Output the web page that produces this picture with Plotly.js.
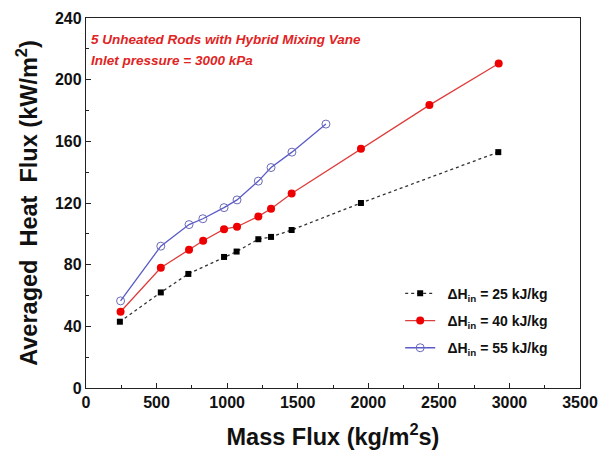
<!DOCTYPE html>
<html><head><meta charset="utf-8">
<script src="https://cdn.plot.ly/plotly-3.0.1.min.js"></script>
<style>body{margin:0;background:#fff}#c{width:610px;height:458px}</style>
</head><body><div id="c"></div>
<script>
const x25 = [240, 530, 725, 978, 1067, 1221, 1311, 1457, 1948, 2921];
const y25 = [43, 62, 74, 85, 88.5, 96.5, 98, 102.5, 120, 153];
const x40 = [245, 530, 730, 830, 978, 1070, 1221, 1311, 1457, 1948, 2433, 2924];
const y40 = [49.5, 78, 89.7, 95.5, 103, 104.6, 111.3, 116.3, 126.2, 155.2, 183.5, 210.5];
const x55 = [245, 530, 730, 828, 978, 1070, 1221, 1311, 1459, 1700];
const y55 = [56.5, 92, 106, 109.8, 117, 122, 134.2, 143, 153, 171.2];
const names = ['ΔH<sub>in</sub> = 25 kJ/kg', 'ΔH<sub>in</sub> = 40 kJ/kg', 'ΔH<sub>in</sub> = 55 kJ/kg'];
const notes = ['5 Unheated Rods with Hybrid Mixing Vane', 'Inlet pressure = 3000 kPa'];

const F = 'Liberation Sans, Arial, sans-serif';
const traces = [
  {x: x25, y: y25, name: '  ' + names[0], legendgroup: 'a', mode: 'lines+markers',
   line: {color: '#333', width: 1.3, dash: 'dot'},
   marker: {symbol: 'square', size: 6, color: '#000'}},
  {x: x40, y: y40, name: '  ' + names[1], legendgroup: 'b', mode: 'lines+markers',
   line: {color: '#e03c3c', width: 1.3},
   marker: {symbol: 'circle', size: 8, color: '#ee0000'}},
  {x: x55, y: y55, name: '  ' + names[2], legendgroup: 'c', mode: 'lines+markers',
   line: {color: '#5a5ac8', width: 1.3},
   marker: {symbol: 'circle-open', size: 8, color: '#6a6ab8', line: {width: 1}}}
];
const axisCommon = {
  showline: true, linecolor: '#222', linewidth: 1.3, mirror: true,
  showgrid: false, zeroline: false, ticks: 'inside', ticklen: 5, tickcolor: '#222',
  tickfont: {family: F, size: 16, color: '#111', weight: 'bold'}
};
const layout = {
  width: 610, height: 458,
  margin: {l: 86, r: 30, t: 18, b: 70},
  paper_bgcolor: '#fff', plot_bgcolor: '#fff',
  font: {family: F},
  xaxis: Object.assign({}, axisCommon, {
    range: [0, 3500], dtick: 500, tick0: 0,
    minor: {ticks: 'inside', dtick: 250, ticklen: 3, tickcolor: '#222'},
    title: {text: 'Mass Flux (kg/m<sup>2</sup>s)', font: {family: F, size: 23.5, color: '#111', weight: 'bold'}, standoff: 18}
  }),
  yaxis: Object.assign({}, axisCommon, {
    range: [0, 240], dtick: 40, tick0: 0,
    minor: {ticks: 'inside', dtick: 20, ticklen: 3, tickcolor: '#222'},
    title: {text: 'Averaged  Heat  Flux (kW/m<sup>2</sup>)', font: {family: F, size: 23.5, color: '#111', weight: 'bold'}, standoff: 10}
  }),
  legend: {x: 0.636, y: 0.298, xanchor: 'left', yanchor: 'top', bgcolor: 'rgba(0,0,0,0)',
    tracegroupgap: 6,
    font: {family: F, size: 14, color: '#111', weight: 'bold'}},
  annotations: [
    {xref: 'paper', yref: 'paper', x: 0.006, y: 0.943, xanchor: 'left', yanchor: 'middle', showarrow: false,
     text: '<b><i>' + notes[0] + '</i></b>', font: {family: F, size: 13.5, color: '#e02424'}},
    {xref: 'paper', yref: 'paper', x: 0.006, y: 0.884, xanchor: 'left', yanchor: 'middle', showarrow: false,
     text: '<b><i>' + notes[1] + '</i></b>', font: {family: F, size: 13.5, color: '#e02424'}}
  ]
};
Plotly.newPlot('c', traces, layout, {displayModeBar: false});
</script></body></html>
